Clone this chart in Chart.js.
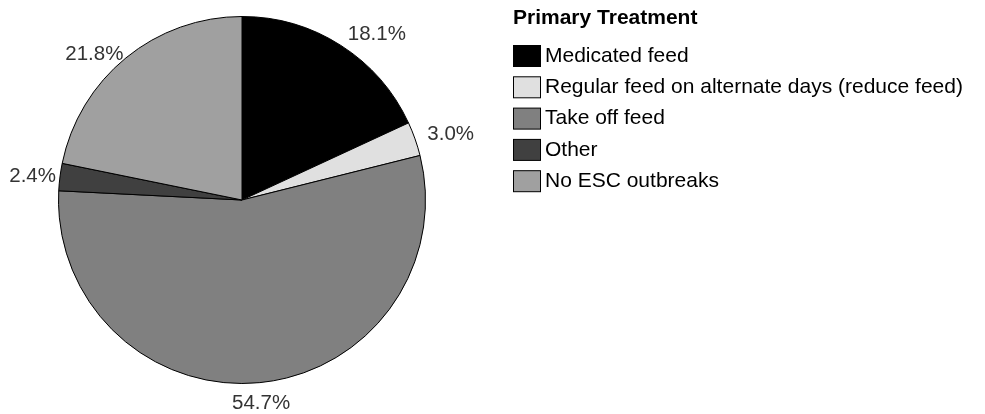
<!DOCTYPE html>
<html lang="en">
<head>
    <meta charset="UTF-8">
    <title>Primary Treatment</title>
    <style>
        body {
            margin: 0;
            padding: 0;
            background-color: #fff;
        }
        .chart-box {
            width: 985px;
            height: 414px;
        }
    </style>
</head>
<body>
    <div class="chart-box">
        <canvas id="treatmentChart"></canvas>
    </div>

    <script src="https://cdn.jsdelivr.net/npm/chart.js"></script>
    <script>
        // Data
        const treatments = [
            'Medicated feed',
            'Regular feed on alternate days (reduce feed)',
            'Take off feed',
            'Other',
            'No ESC outbreaks'
        ];
        const shares = [18.1, 3.0, 54.7, 2.4, 21.8];
        const sliceColors = ['#000000', '#e0e0e0', '#808080', '#404040', '#a0a0a0'];
        const legendTitle = 'Primary Treatment';

        Chart.defaults.font.family = '"Liberation Sans", Arial, sans-serif';

        // percent labels outside the slices
        const outsideLabels = {
            id: 'outsideLabels',
            afterDatasetsDraw(chart) {
                const ctx = chart.ctx;
                const meta = chart.getDatasetMeta(0);
                const values = chart.data.datasets[0].data;
                ctx.save();
                ctx.font = '20.5px "Liberation Sans", Arial, sans-serif';
                ctx.fillStyle = '#333';
                ctx.textBaseline = 'middle';
                meta.data.forEach((arc, i) => {
                    const p = arc.getProps(['x', 'y', 'startAngle', 'endAngle', 'outerRadius'], true);
                    const mid = (p.startAngle + p.endAngle) / 2;
                    const hx = Math.cos(mid);
                    const hy = Math.sin(mid);
                    const r = p.outerRadius + (hx < -0.3 ? 4 : 13);
                    let lx = p.x + hx * r;
                    let ly = p.y + hy * r;
                    if (hx > 0.3) ctx.textAlign = 'left';
                    else if (hx < -0.3) ctx.textAlign = 'right';
                    else ctx.textAlign = 'center';
                    if (hy > 0.9) ly += 8;
                    ctx.fillText(values[i].toFixed(1) + '%', lx, ly);
                });
                ctx.restore();
            }
        };

        // legend block on the right
        const sideLegend = {
            id: 'sideLegend',
            afterDraw(chart) {
                const ctx = chart.ctx;
                const ds = chart.data.datasets[0];
                const left = 513;
                ctx.save();
                ctx.textBaseline = 'middle';
                ctx.textAlign = 'left';
                ctx.fillStyle = '#000';
                ctx.font = 'bold 21px "Liberation Sans", Arial, sans-serif';
                ctx.fillText(legendTitle, left, 18);
                ctx.font = '21px "Liberation Sans", Arial, sans-serif';
                chart.data.labels.forEach((label, i) => {
                    const cy = 56 + i * 31.3;
                    ctx.fillStyle = ds.backgroundColor[i];
                    ctx.fillRect(left + 0.5, cy - 10.5, 27, 21);
                    ctx.strokeStyle = '#000';
                    ctx.lineWidth = 1;
                    ctx.strokeRect(left + 0.5, cy - 10.5, 27, 21);
                    ctx.fillStyle = '#000';
                    ctx.fillText(label, left + 32, cy);
                });
                ctx.restore();
            }
        };

        const treatmentChart = new Chart(document.getElementById('treatmentChart'), {
            type: 'pie',
            data: {
                labels: treatments,
                datasets: [{
                    label: legendTitle,
                    data: shares,
                    backgroundColor: sliceColors,
                    borderColor: '#000',
                    borderWidth: 1
                }]
            },
            options: {
                responsive: true,
                maintainAspectRatio: false,
                animation: false,
                layout: {
                    padding: { left: 58, right: 559, top: 16, bottom: 30 }
                },
                plugins: {
                    legend: { display: false },
                    tooltip: { enabled: false }
                }
            },
            plugins: [outsideLabels, sideLegend]
        });
    </script>
</body>
</html>
